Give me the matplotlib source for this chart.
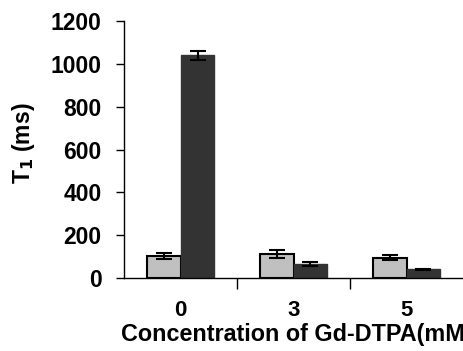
import matplotlib.pyplot as plt
import numpy as np

plt.rcParams['font.family'] = ['Liberation Sans', 'DejaVu Sans']
plt.rcParams['font.weight'] = 'bold'

concentrations = ['0', '3', '5']
light_vals = [103, 112, 95]
light_err = [14, 18, 12]
dark_vals = [1040, 65, 40]
dark_err = [20, 10, 3]

fig = plt.figure(figsize=(4.63, 3.51), dpi=100)
ax = fig.add_axes([0.268, 0.208, 0.732, 0.732])

x = np.arange(len(concentrations))
w = 0.3
ax.bar(x - w / 2, light_vals, w, color='#c0c0c0', edgecolor='black', linewidth=1.5,
       yerr=light_err, capsize=5.5, error_kw=dict(elinewidth=1.5, capthick=1.5, ecolor='black'))
ax.bar(x + w / 2, dark_vals, w, color='#333333', edgecolor='#333333', linewidth=1,
       yerr=dark_err, capsize=5.5, error_kw=dict(elinewidth=1.5, capthick=1.5, ecolor='black'))

ax.set_xlim(-0.5, 2.5)
ax.set_ylim(0, 1200)
ax.set_yticks(range(0, 1201, 200))
ax.set_xticks(x)
ax.set_xticklabels(concentrations)
ax.set_xticks([0.5, 1.5], minor=True)
ax.tick_params(axis='x', which='major', length=0, pad=16, labelsize=16)
ax.tick_params(axis='x', which='minor', length=8, width=1, direction='out')
ax.tick_params(axis='y', length=6, width=1, pad=10, labelsize=16.5)

for s in ['top', 'right']:
    ax.spines[s].set_visible(False)
ax.spines['left'].set_linewidth(1)
ax.spines['bottom'].set_linewidth(1)

ax.set_ylabel('T$_\\mathbf{1}$ (ms)', fontsize=16.5, fontweight='bold')
ax.yaxis.set_label_coords(-0.258, 0.525)
fig.text(0.262, 0.028, 'Concentration of Gd-DTPA(mM)', fontsize=16.8, fontweight='bold',
         ha='left', va='baseline')

fig.savefig('out.png', dpi=100)
